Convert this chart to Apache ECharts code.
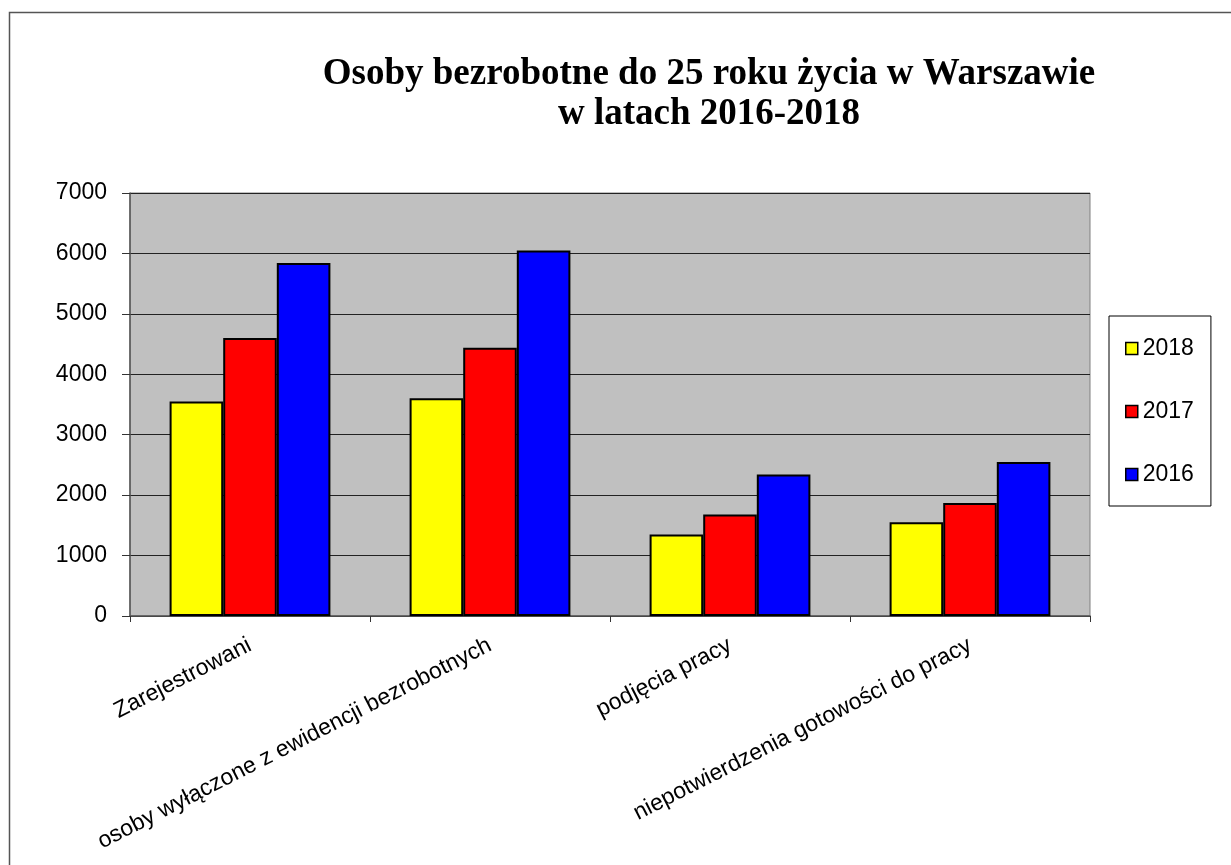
<!DOCTYPE html>
<html>
<head>
<meta charset="utf-8">
<title>Osoby bezrobotne do 25 roku życia w Warszawie</title>
<script src="https://cdn.jsdelivr.net/npm/echarts@6/dist/echarts.min.js"></script>
<style>
  html, body { margin: 0; padding: 0; background: #fff; }
  #chart { width: 1231px; height: 865px; }
</style>
</head>
<body>
<div id="chart"></div>
<script>
// dane
const categories = [
  'Zarejestrowani',
  'osoby wyłączone z ewidencji bezrobotnych',
  'podjęcia pracy',
  'niepotwierdzenia gotowości do pracy'
];
const years = ['2018', '2017', '2016'];
const colors = ['#FFFF00', '#FF0000', '#0000FF'];
const values2018 = [3550, 3605, 1350, 1550];
const values2017 = [4600, 4440, 1680, 1870];
const values2016 = [5840, 6050, 2340, 2550];
const yTicks = [0, 1000, 2000, 3000, 4000, 5000, 6000, 7000];

const seriesValues = [values2018, values2017, values2016];

const chart = echarts.init(document.getElementById('chart'));

const series = years.map((y, i) => ({
  name: y,
  type: 'bar',
  data: seriesValues[i],
  barGap: '0%',
  barCategoryGap: '33%',
  itemStyle: {
    color: colors[i],
    borderColor: '#000',
    borderWidth: 2
  },
  emphasis: { disabled: true }
}));

chart.setOption({
  animation: false,
  textStyle: { fontFamily: 'Liberation Sans, Arial, sans-serif' },
  title: {
    text: 'Osoby bezrobotne do 25 roku życia w Warszawie\nw latach 2016-2018',
    left: 704,
    top: 49,
    textAlign: 'center',
    textStyle: {
      fontFamily: 'Liberation Serif, Times New Roman, serif',
      fontWeight: 'bold',
      fontSize: 37,
      lineHeight: 40,
      color: '#000'
    }
  },
  graphic: [{
    type: 'rect',
    shape: { x: 9.5, y: 12.5, width: 1400, height: 1000 },
    style: { fill: 'none', stroke: '#555', lineWidth: 1.5 },
    silent: true,
    z: -1
  }],
  legend: {
    data: years,
    orient: 'vertical',
    left: 1109,
    top: 316,
    padding: [21, 17, 20, 16],
    itemGap: 40,
    itemWidth: 12,
    itemHeight: 12,
    icon: 'rect',
    borderColor: '#000',
    borderWidth: 1,
    itemStyle: { borderColor: '#000', borderWidth: 1.5 },
    textStyle: { fontSize: 23, color: '#000', padding: [0, 0, 0, 0] },
    selectedMode: false
  },
  grid: {
    left: 130,
    right: 141,
    top: 193,
    bottom: 249,
    show: true,
    backgroundColor: '#C0C0C0',
    borderColor: '#808080',
    borderWidth: 1
  },
  xAxis: {
    type: 'category',
    data: categories,
    axisLine: { lineStyle: { color: '#555', width: 1.5 } },
    axisTick: { show: true, length: 6, lineStyle: { color: '#333' } },
    axisLabel: {
      rotate: 27,
      fontSize: 23,
      color: '#000',
      margin: 28,
      interval: 0
    }
  },
  yAxis: {
    type: 'value',
    min: 0,
    max: 7000,
    interval: 1000,
    axisLine: { show: true, lineStyle: { color: '#555', width: 1.5 } },
    axisTick: { show: true, length: 8, lineStyle: { color: '#333' } },
    axisLabel: {
      fontSize: 23,
      color: '#000',
      margin: 23,
      formatter: v => yTicks.includes(v) ? String(v) : ''
    },
    splitLine: { show: true, lineStyle: { color: '#222', width: 1 } }
  },
  series: series
});
</script>
</body>
</html>
